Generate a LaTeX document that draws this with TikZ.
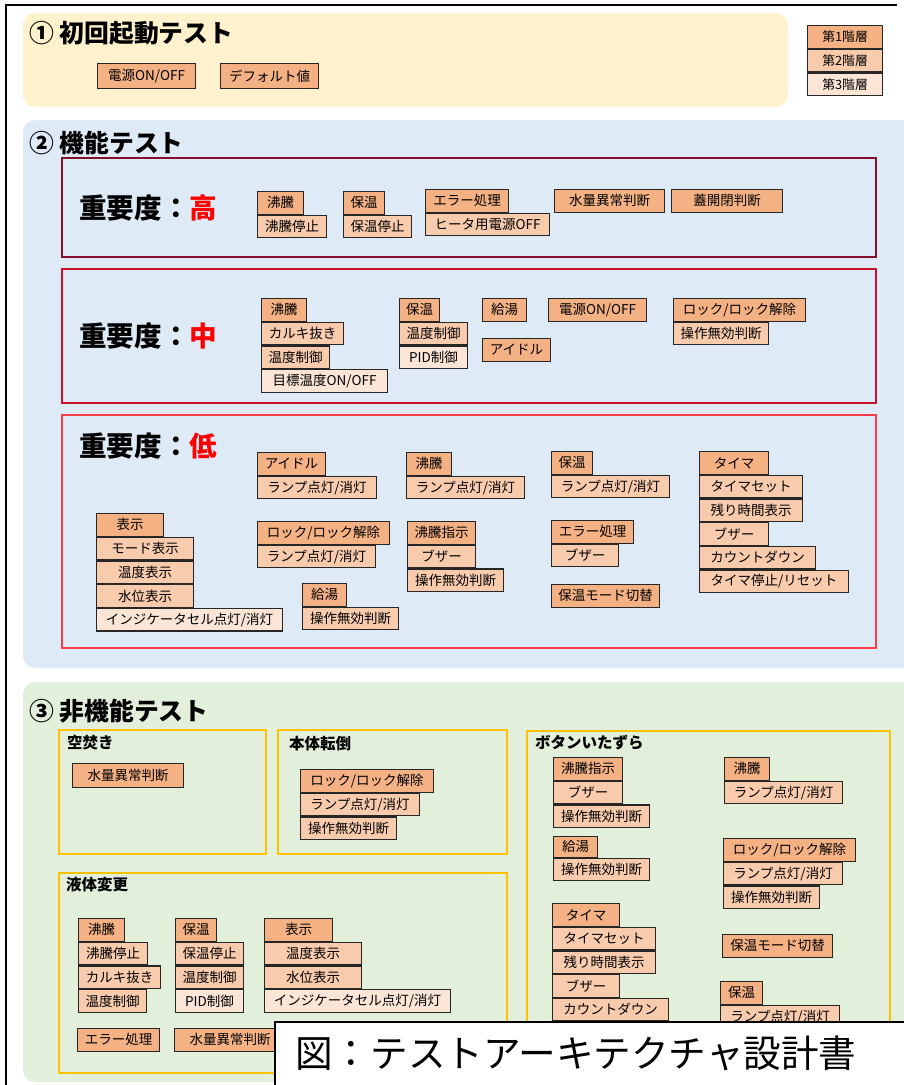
\documentclass[tikz,border=0pt]{standalone}
\usepackage{fontspec}
\setmainfont{Noto Sans CJK JP}
\usepackage{tikz}
\definecolor{lvone}{HTML}{F4B183}
\definecolor{lvtwo}{HTML}{F8CBAD}
\definecolor{lvthree}{HTML}{FBE5D6}
\definecolor{bgone}{HTML}{FFF2CC}
\definecolor{bgtwo}{HTML}{DEEBF7}
\definecolor{bgthree}{HTML}{E2EFDA}
\definecolor{prhigh}{RGB}{130,16,42}
\definecolor{prmid}{RGB}{200,16,40}
\definecolor{prlow}{RGB}{255,60,70}
\definecolor{grpgold}{HTML}{FFC000}

\begin{document}
\begin{tikzpicture}[x=1pt,y=-1pt,
    item/.style={draw=black!85,line width=1.1pt,anchor=north west,minimum height=22.6,inner sep=0pt,
      font=\fontsize{13.5}{14}\selectfont},
    lvA/.style={item,fill=lvone},
    lvB/.style={item,fill=lvtwo},
    lvC/.style={item,fill=lvthree},
    sectitle/.style={anchor=west,inner sep=0pt,font=\bfseries\fontsize{24.8}{26}\selectfont},
    prio/.style={anchor=west,inner sep=0pt,font=\bfseries\fontsize{27.6}{28}\selectfont},
    grp/.style={anchor=west,inner sep=0pt,font=\bfseries\fontsize{15.5}{16}\selectfont},
    panel/.style={rounded corners=12pt},
    prioframe/.style={line width=1.8pt},
    grpframe/.style={draw=grpgold,line width=1.8pt}]
  \useasboundingbox (0,0) rectangle (903,1085);

  % (1)
  \fill[panel,bgone] (23,13) rectangle (788,107);
  \node[sectitle] (t1) at (29,33) {① 初回起動テスト};
  \node[lvA,minimum width=98,minimum height=25] (s1a) at (97,63) {電源ON/OFF};
  \node[lvA,minimum width=98,minimum height=25] (s1b) at (220,63) {デフォルト値};

  \node[lvA,minimum width=75,font=\fontsize{12.8}{13}\selectfont] (leg1) at (807,25) {第1階層};
  \node[lvB,minimum width=75,font=\fontsize{12.8}{13}\selectfont] (leg2) at (leg1.south west) {第2階層};
  \node[lvC,minimum width=75,font=\fontsize{12.8}{13}\selectfont] (leg3) at (leg2.south west) {第3階層};

  % (2)
  \fill[panel,bgtwo] (23,120) rectangle (930,668);
  \node[sectitle] (t2) at (29,143) {② 機能テスト};

  \draw[prioframe,prhigh] (62,158) rectangle (876,257);
  \node[prio] (phigh) at (79,208) {重要度：\textcolor{red}{高}};
  \node[lvA,minimum width=46] (hA1) at (257,191) {沸騰};
  \node[lvB,minimum width=69] (hA2) at (hA1.south west) {沸騰停止};
  \node[lvA,minimum width=41] (hB1) at (343,191) {保温};
  \node[lvB,minimum width=68] (hB2) at (hB1.south west) {保温停止};
  \node[lvA,minimum width=83] (hC1) at (425,189) {エラー処理};
  \node[lvB,minimum width=124] (hC2) at (hC1.south west) {ヒータ用電源OFF};
  \node[lvA,minimum width=110] (hD) at (554,189) {水量異常判断};
  \node[lvA,minimum width=111] (hE) at (671,189) {蓋開閉判断};

  \draw[prioframe,prmid] (62,269) rectangle (876,403);
  \node[prio] (pmid) at (79,336) {重要度：\textcolor{red}{中}};
  \node[lvA,minimum width=45] (mA1) at (261,298) {沸騰};
  \node[lvB,minimum width=82] (mA2) at (mA1.south west) {カルキ抜き};
  \node[lvB,minimum width=68] (mA3) at (mA2.south west) {温度制御};
  \node[lvC,minimum width=126] (mA4) at (mA3.south west) {目標温度ON/OFF};
  \node[lvA,minimum width=40] (mB1) at (399,298) {保温};
  \node[lvB,minimum width=68] (mB2) at (mB1.south west) {温度制御};
  \node[lvC,minimum width=68] (mB3) at (mB2.south west) {PID制御};
  \node[lvA,minimum width=44] (mC) at (482,298) {給湯};
  \node[lvA,minimum width=68] (mD) at (482,338) {アイドル};
  \node[lvA,minimum width=98] (mE) at (548,298) {電源ON/OFF};
  \node[lvA,minimum width=132] (mF1) at (673,298) {ロック/ロック解除};
  \node[lvB,minimum width=95] (mF2) at (mF1.south west) {操作無効判断};

  \draw[prioframe,prlow] (62,415) rectangle (876,648);
  \node[prio] (plow) at (79,446) {重要度：\textcolor{red}{低}};
  \node[lvA,minimum width=67] (lA1) at (96,513) {表示};
  \node[lvB,minimum width=97] (lA2) at (lA1.south west) {モード表示};
  \node[lvB,minimum width=97] (lA3) at (lA2.south west) {温度表示};
  \node[lvB,minimum width=97] (lA4) at (lA3.south west) {水位表示};
  \node[lvC,minimum width=186] (lA5) at (lA4.south west) {インジケータセル点灯/消灯};
  \node[lvA,minimum width=68] (lB1) at (257,452) {アイドル};
  \node[lvB,minimum width=119] (lB2) at (lB1.south west) {ランプ点灯/消灯};
  \node[lvA,minimum width=132] (lC1) at (257,521) {ロック/ロック解除};
  \node[lvB,minimum width=118] (lC2) at (lC1.south west) {ランプ点灯/消灯};
  \node[lvA,minimum width=44] (lD1) at (302,583) {給湯};
  \node[lvB,minimum width=96] (lD2) at (lD1.south west) {操作無効判断};
  \node[lvA,minimum width=45] (lE1) at (406,452) {沸騰};
  \node[lvB,minimum width=118] (lE2) at (lE1.south west) {ランプ点灯/消灯};
  \node[lvA,minimum width=68] (lF1) at (407,521) {沸騰指示};
  \node[lvB,minimum width=68] (lF2) at (lF1.south west) {ブザー};
  \node[lvB,minimum width=96] (lF3) at (lF2.south west) {操作無効判断};
  \node[lvA,minimum width=41] (lG1) at (551,451) {保温};
  \node[lvB,minimum width=118] (lG2) at (lG1.south west) {ランプ点灯/消灯};
  \node[lvA,minimum width=82] (lH1) at (551,520) {エラー処理};
  \node[lvB,minimum width=67] (lH2) at (lH1.south west) {ブザー};
  \node[lvA,minimum width=108] (lI) at (551,584) {保温モード切替};
  \node[lvA,minimum width=69] (lJ1) at (699,451) {タイマ};
  \node[lvB,minimum width=103] (lJ2) at (lJ1.south west) {タイマセット};
  \node[lvB,minimum width=103] (lJ3) at (lJ2.south west) {残り時間表示};
  \node[lvB,minimum width=69] (lJ4) at (lJ3.south west) {ブザー};
  \node[lvB,minimum width=116] (lJ5) at (lJ4.south west) {カウントダウン};
  \node[lvB,minimum width=149] (lJ6) at (lJ5.south west) {タイマ停止/リセット};

  % (3)
  \fill[panel,bgthree] (23,682) rectangle (930,1082);
  \node[sectitle] (t3) at (29,711) {③ 非機能テスト};

  \draw[grpframe] (59,730) rectangle (266,854);
  \node[grp] (gk) at (67,743) {空焚き};
  \node[lvA,minimum width=111,minimum height=24] (kA) at (72,763) {水量異常判断};

  \draw[grpframe] (278,730) rectangle (507,854);
  \node[grp] (gt) at (289,744) {本体転倒};
  \node[lvA,minimum width=133] (tA1) at (300,769) {ロック/ロック解除};
  \node[lvB,minimum width=119] (tA2) at (tA1.south west) {ランプ点灯/消灯};
  \node[lvB,minimum width=96] (tA3) at (tA2.south west) {操作無効判断};

  \draw[grpframe] (527,731) rectangle (890,1040);
  \node[grp] (gb) at (535,743) {ボタンいたずら};
  \node[lvA,minimum width=69] (bA1) at (553,757) {沸騰指示};
  \node[lvB,minimum width=69] (bA2) at (bA1.south west) {ブザー};
  \node[lvB,minimum width=96] (bA3) at (bA2.south west) {操作無効判断};
  \node[lvA,minimum width=45] (bB1) at (724,757) {沸騰};
  \node[lvB,minimum width=118] (bB2) at (bB1.south west) {ランプ点灯/消灯};
  \node[lvA,minimum width=44,minimum height=20.5] (bC1) at (553,836) {給湯};
  \node[lvB,minimum width=96] (bC2) at (bC1.south west) {操作無効判断};
  \node[lvA,minimum width=132] (bD1) at (723,838) {ロック/ロック解除};
  \node[lvB,minimum width=119] (bD2) at (bD1.south west) {ランプ点灯/消灯};
  \node[lvB,minimum width=96] (bD3) at (bD2.south west) {操作無効判断};
  \node[lvA,minimum width=67] (bE1) at (552,903) {タイマ};
  \node[lvB,minimum width=103] (bE2) at (bE1.south west) {タイマセット};
  \node[lvB,minimum width=103] (bE3) at (bE2.south west) {残り時間表示};
  \node[lvB,minimum width=67] (bE4) at (bE3.south west) {ブザー};
  \node[lvB,minimum width=116] (bE5) at (bE4.south west) {カウントダウン};
  \node[lvB,minimum width=148] (bE6) at (bE5.south west) {タイマ停止/リセット};
  \node[lvA,minimum width=110] (bF) at (722,934) {保温モード切替};
  \node[lvA,minimum width=42] (bG1) at (720,981) {保温};
  \node[lvB,minimum width=119] (bG2) at (bG1.south west) {ランプ点灯/消灯};

  \draw[grpframe] (59,873) rectangle (507,1073);
  \node[grp] (ge) at (66,885) {液体変更};
  \node[lvA,minimum width=46] (eA1) at (78,918) {沸騰};
  \node[lvB,minimum width=69] (eA2) at (eA1.south west) {沸騰停止};
  \node[lvB,minimum width=82] (eA3) at (eA2.south west) {カルキ抜き};
  \node[lvB,minimum width=68] (eA4) at (eA3.south west) {温度制御};
  \node[lvA,minimum width=41] (eB1) at (175,918) {保温};
  \node[lvB,minimum width=68] (eB2) at (eB1.south west) {保温停止};
  \node[lvB,minimum width=68] (eB3) at (eB2.south west) {温度制御};
  \node[lvC,minimum width=68] (eB4) at (eB3.south west) {PID制御};
  \node[lvA,minimum width=68] (eC1) at (264,918) {表示};
  \node[lvB,minimum width=97] (eC2) at (eC1.south west) {温度表示};
  \node[lvB,minimum width=97] (eC3) at (eC2.south west) {水位表示};
  \node[lvC,minimum width=186] (eC4) at (eC3.south west) {インジケータセル点灯/消灯};
  \node[lvA,minimum width=82] (eD) at (77,1028) {エラー処理};
  \node[lvA,minimum width=111] (eE) at (174,1028) {水量異常判断};

  % outer frame and caption
  \draw[line width=1.6pt] (6,1090) -- (6,5) -- (897,5);
  \draw[line width=1.6pt,fill=white] (275,1095) -- (275,1022) -- (910,1022) -- (910,1095);
  \node[anchor=west,inner sep=0pt,font=\fontsize{37.6}{38}\selectfont] (cap) at (295,1053) {図：テストアーキテクチャ設計書};
\end{tikzpicture}
\end{document}
